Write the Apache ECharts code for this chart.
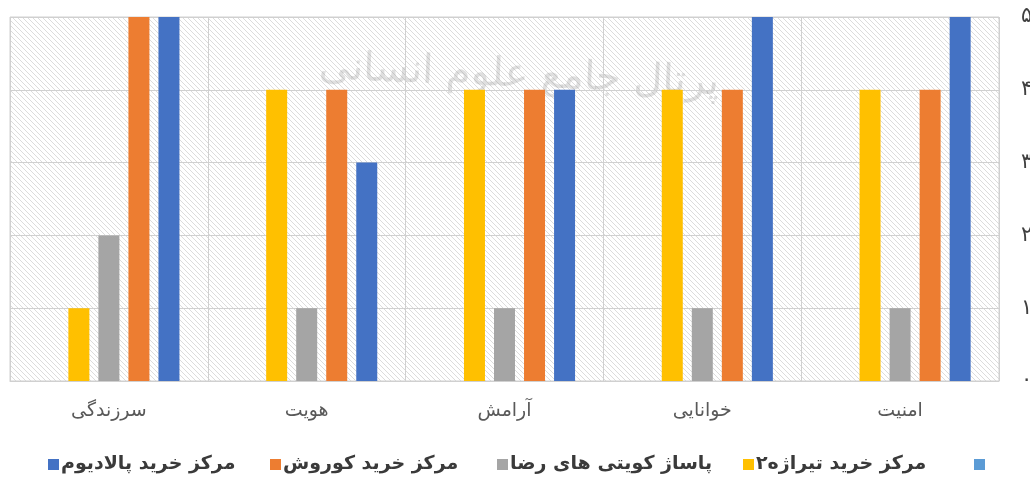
<!DOCTYPE html>
<html><head><meta charset="utf-8">
<script src="https://cdn.jsdelivr.net/npm/echarts@6/dist/echarts.min.js"></script>
<style>html,body{margin:0;padding:0;background:#fff;}#c{width:1030px;height:492px;}</style>
</head><body><div id="c"></div>
<script>
var categories = ['سرزندگی', 'هویت', 'آرامش', 'خوانایی', 'امنیت'];
var seriesNames = [' ', 'مرکز خرید تیراژه۲', 'پاساژ کویتی های رضا', 'مرکز خرید کوروش', 'مرکز خرید پالادیوم'];
var seriesColors = ['#5B9BD5', '#FFC000', '#A5A5A5', '#ED7D31', '#4472C4'];
var valuesEmpty = [0, 0, 0, 0, 0];
var valuesTiraje = [1, 4, 4, 4, 4];
var valuesKuwaiti = [2, 1, 1, 1, 1];
var valuesKourosh = [5, 4, 4, 4, 4];
var valuesPalladium = [5, 3, 4, 5, 5];
var legendOrder = ['مرکز خرید پالادیوم', 'مرکز خرید کوروش', 'پاساژ کویتی های رضا', 'مرکز خرید تیراژه۲', ' '];
var yTickLabels = ['۰', '۱', '۲', '۳', '۴', '۵'];
var watermark = 'پرتال جامع علوم انسانی';

var allValues = [valuesEmpty, valuesTiraje, valuesKuwaiti, valuesKourosh, valuesPalladium];
var legendLefts = [48, 270, 497, 743, 974];

var pc = document.createElement('canvas');
pc.width = 5; pc.height = 5;
var g = pc.getContext('2d');
g.fillStyle = '#ffffff'; g.fillRect(0, 0, 5, 5);
g.strokeStyle = '#dcdcdc'; g.lineWidth = 1;
g.beginPath(); g.moveTo(-1, -1); g.lineTo(6, 6); g.stroke();
g.beginPath(); g.moveTo(-1, 4); g.lineTo(1, 6); g.stroke();
g.beginPath(); g.moveTo(4, -1); g.lineTo(6, 1); g.stroke();

var chart = echarts.init(document.getElementById('c'), null, {renderer: 'canvas'});
var font = 'DejaVu Sans';
chart.setOption({
  animation: false,
  backgroundColor: '#ffffff',
  textStyle: {fontFamily: font},
  grid: {left: 10, right: 31, top: 17, bottom: 111, show: true, containLabel: false,
         outerBoundsMode: 'none',
         backgroundColor: {image: pc, repeat: 'repeat'},
         borderColor: '#d0d0d0', borderWidth: 1},
  legend: legendOrder.map(function (n, i) {
    return {
      data: [n], left: legendLefts[i], top: 455, itemWidth: 11, itemHeight: 11,
      icon: 'rect', padding: 0,
      textStyle: {fontFamily: font, fontSize: 19, fontWeight: 'bold', color: '#3a3a3a', padding: [0, 0, 0, -3]}
    };
  }),
  xAxis: {
    type: 'category', data: categories,
    axisLine: {show: true, lineStyle: {color: '#d0d0d0'}},
    axisTick: {show: false},
    splitLine: {show: true, lineStyle: {color: '#d0d0d0'}},
    axisLabel: {color: '#595959', fontSize: 19, margin: 21, fontFamily: font}
  },
  yAxis: {
    type: 'value', position: 'right', min: 0, max: 5, interval: 1,
    axisLine: {show: false}, axisTick: {show: false},
    splitLine: {show: true, lineStyle: {color: '#d0d0d0'}},
    axisLabel: {margin: 22, color: '#404040', fontSize: 21, fontFamily: font,
      formatter: function (v) { return yTickLabels[v]; }}
  },
  graphic: [{
    type: 'text', left: 318, top: 48, rotation: -0.04,
    style: {text: watermark, font: '40px "DejaVu Sans"', fill: 'rgba(150,150,150,0.3)'}
  }],
  series: seriesNames.map(function (n, i) {
    return {name: n, type: 'bar', data: allValues[i], barWidth: 21, barGap: '43%',
      itemStyle: {color: seriesColors[i]}};
  })
});
</script></body></html>
